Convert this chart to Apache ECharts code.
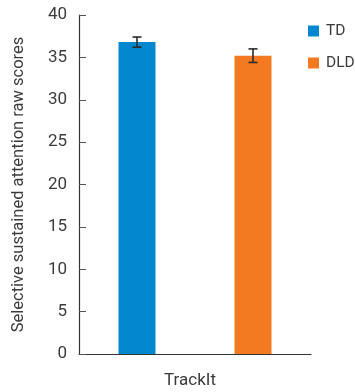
<!DOCTYPE html>
<html>
<head>
<meta charset="utf-8">
<script src="https://cdn.jsdelivr.net/npm/echarts@6/dist/echarts.min.js"></script>
<style>
  html, body { margin: 0; padding: 0; background: #fff; }
  #chart { width: 355px; height: 392px; }
</style>
</head>
<body>
<div id="chart"></div>
<script>
// TrackIt selective sustained attention: group means with error bars
const categories = ['TrackIt'];
const groups = ['TD', 'DLD'];
const means = [36.8, 35.2];
const errors = [0.6, 0.8];
const yTicks = { min: 0, max: 40, interval: 5 };

const colors = ['#0388d0', '#f47a22'];
const textColor = '#3b3b3b';
const fontFamily = 'Roboto, "Noto Sans", sans-serif';
const barWidth = 37;
const barGapPx = 79;

const chart = echarts.init(document.getElementById('chart'));

const barSeries = groups.map((name, i) => ({
  name: name,
  type: 'bar',
  data: [means[i]],
  barWidth: barWidth,
  barGap: (barGapPx / barWidth * 100) + '%',
  itemStyle: { color: colors[i] },
  z: 2
}));

// whiskers drawn beside each bar's centre
const errorSeries = groups.map((name, i) => ({
  type: 'custom',
  data: [[0, means[i] - errors[i], means[i] + errors[i]]],
  z: 5,
  silent: true,
  renderItem: function (params, api) {
    const shift = (i - (groups.length - 1) / 2) * (barWidth + barGapPx);
    const lo = api.coord([api.value(0), api.value(1)]);
    const hi = api.coord([api.value(0), api.value(2)]);
    const x = lo[0] + shift;
    const cap = 4.5;
    const style = { stroke: '#2a2a2a', lineWidth: 1.6 };
    return {
      type: 'group',
      children: [
        { type: 'line', shape: { x1: x, y1: lo[1], x2: x, y2: hi[1] }, style: style },
        { type: 'line', shape: { x1: x - cap, y1: hi[1], x2: x + cap, y2: hi[1] }, style: style },
        { type: 'line', shape: { x1: x - cap, y1: lo[1], x2: x + cap, y2: lo[1] }, style: style }
      ]
    };
  }
}));

chart.setOption({
  animation: false,
  textStyle: { fontFamily: fontFamily },
  grid: { left: 79, right: 44, top: 15, bottom: 38 },
  legend: {
    data: groups.map((g, i) => ({ name: g, itemStyle: { color: colors[i] } })),
    orient: 'vertical',
    left: 303,
    top: 18,
    icon: 'rect',
    itemWidth: 11,
    itemHeight: 11,
    itemGap: 16,
    textStyle: { fontSize: 15.5, color: textColor, fontFamily: fontFamily, padding: [0, 0, 0, 2] }
  },
  xAxis: {
    type: 'category',
    data: categories,
    axisLine: { lineStyle: { color: '#333', width: 1.2 } },
    axisTick: { show: false },
    axisLabel: { fontSize: 17, color: textColor, margin: 18, padding: [0, 10, 0, 0] }
  },
  yAxis: {
    type: 'value',
    min: yTicks.min,
    max: yTicks.max,
    interval: yTicks.interval,
    name: 'Selective sustained attention raw scores',
    nameLocation: 'middle',
    nameGap: 52,
    nameTextStyle: { fontSize: 16.5, color: textColor },
    splitLine: { show: false },
    axisLine: { show: true, lineStyle: { color: '#333', width: 1.2 } },
    axisTick: { show: true, inside: true, length: 7, lineStyle: { color: '#555' } },
    axisLabel: { fontSize: 17, color: textColor, margin: 12 }
  },
  series: barSeries.concat(errorSeries)
});
</script>
</body>
</html>
